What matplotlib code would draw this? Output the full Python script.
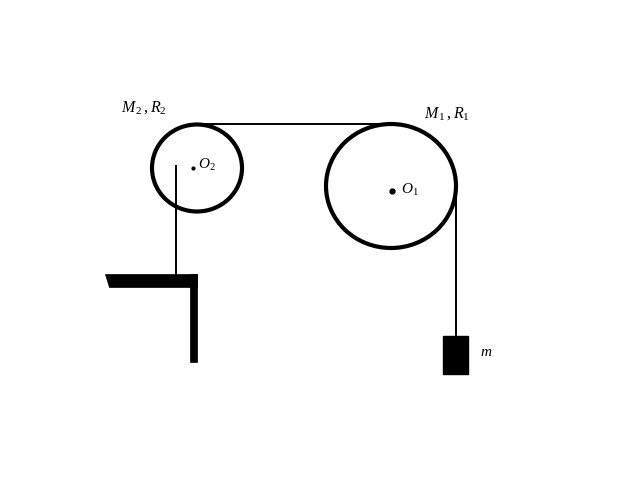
import matplotlib
matplotlib.use("Agg")
import matplotlib.pyplot as plt
from matplotlib.patches import Ellipse, Rectangle, Polygon

plt.rcParams['mathtext.fontset'] = 'custom'
plt.rcParams['mathtext.rm'] = 'Liberation Serif'
plt.rcParams['mathtext.it'] = 'Liberation Serif:italic'

# pulleys: name, center x, center y, width, height (pixel coordinates)
pulley_names = ["O_2", "O_1"]
pulley_cx = [197, 391]
pulley_cy = [168, 186]
pulley_w = [90, 130]
pulley_h = [87, 124]
pulley_labels = [r"$M_{\,\mathrm{2}}\,,R_{\mathrm{2}}$", r"$M_{\,\mathrm{1}}\,,R_{\mathrm{1}}$"]
label_xy = [(121, 108), (424, 114)]

fig = plt.figure(figsize=(6.4, 4.8), dpi=100)
ax = fig.add_axes([0, 0, 1, 1])
ax.set_xlim(0, 640)
ax.set_ylim(480, 0)
ax.axis('off')

for cx, cy, w, h in zip(pulley_cx, pulley_cy, pulley_w, pulley_h):
    ax.add_patch(Ellipse((cx, cy), w, h, fill=False, lw=3.0, ec='black'))

# strings
ax.plot([197, 389], [124, 124], color='black', lw=1.4)
ax.plot([456, 456], [186, 337], color='black', lw=1.4)
ax.plot([176, 176], [166, 276], color='black', lw=1.4)

# mass block
ax.add_patch(Rectangle((443, 336), 25, 38, fc='black', ec='black'))

# bracket
ax.add_patch(Polygon([(105, 274), (197, 274), (197, 287), (109, 287)], closed=True, fc='black', ec='black', lw=0.5))
ax.add_patch(Rectangle((190, 274), 7, 88, fc='black', ec='black', lw=0.5))

# centers
ax.plot([193], [167.5], 'o', color='black', ms=2)
ax.plot([392], [191], 'o', color='black', ms=3.5)
ax.text(198, 165, r"$O_{\mathrm{2}}$", fontsize=11, va='center', ha='left')
ax.text(401, 190, r"$O_{\mathrm{1}}$", fontsize=11, va='center', ha='left')

for lab, (x, y) in zip(pulley_labels, label_xy):
    ax.text(x, y, lab, fontsize=11.5, va='center', ha='left')

ax.text(480, 352, r"$m$", fontsize=11, va='center', ha='left')

fig.savefig("out.png", dpi=100)
